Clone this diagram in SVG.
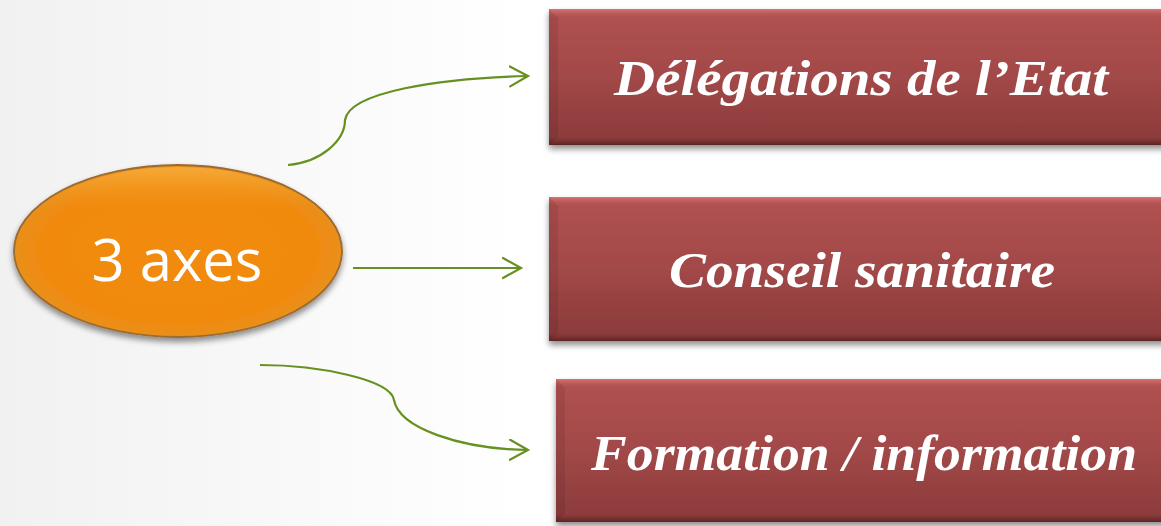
<svg xmlns="http://www.w3.org/2000/svg" width="1161" height="526" viewBox="0 0 1161 526">
  <defs>
    <linearGradient id="bg" x1="0" y1="0" x2="1" y2="0">
      <stop offset="0" stop-color="#f1f1f1"/>
      <stop offset="0.45" stop-color="#ffffff"/>
      <stop offset="1" stop-color="#ffffff"/>
    </linearGradient>
    <linearGradient id="boxFill" x1="0" y1="0" x2="0" y2="1">
      <stop offset="0" stop-color="#b25252"/>
      <stop offset="0.5" stop-color="#a24848"/>
      <stop offset="1" stop-color="#8a3a3a"/>
    </linearGradient>
    <linearGradient id="topBevel" x1="0" y1="0" x2="0" y2="1">
      <stop offset="0" stop-color="#dc7474"/>
      <stop offset="1" stop-color="#b25252" stop-opacity="0"/>
    </linearGradient>
    <linearGradient id="botBevel" x1="0" y1="0" x2="0" y2="1">
      <stop offset="0" stop-color="#7a3030" stop-opacity="0"/>
      <stop offset="1" stop-color="#5a2222"/>
    </linearGradient>
    <radialGradient id="ovalFill" cx="0.5" cy="0.5" r="0.5">
      <stop offset="0" stop-color="#f28b0e"/>
      <stop offset="0.85" stop-color="#f08a10"/>
      <stop offset="1" stop-color="#e8901c"/>
    </radialGradient>
    <linearGradient id="ovalShine" x1="0" y1="0" x2="0" y2="1">
      <stop offset="0" stop-color="#f7ac3a" stop-opacity="0.9"/>
      <stop offset="0.25" stop-color="#f59a22" stop-opacity="0"/>
    </linearGradient>
    <filter id="shadow" x="-5%" y="-10%" width="115%" height="130%">
      <feGaussianBlur in="SourceAlpha" stdDeviation="3"/>
      <feOffset dx="0" dy="4" result="b"/>
      <feComponentTransfer><feFuncA type="linear" slope="0.45"/></feComponentTransfer>
      <feMerge><feMergeNode/><feMergeNode in="SourceGraphic"/></feMerge>
    </filter>
    <marker id="arrow" markerUnits="userSpaceOnUse" markerWidth="24" markerHeight="26" refX="19" refY="11" orient="auto">
      <path d="M1,1 L19,11 L1,21" fill="none" stroke="#66901f" stroke-width="2.2" stroke-linecap="round" stroke-linejoin="miter"/>
    </marker>
  </defs>
  <style>
    .conn { fill: none; stroke: #66901f; stroke-width: 2.2; marker-end: url(#arrow); }
    .lbl { font-family: "Liberation Serif", "DejaVu Serif", serif; font-style: italic; font-weight: bold; fill: #ffffff; text-anchor: middle; }
    .oval-txt { font-family: "Open Sans", "Liberation Sans", sans-serif; fill: #ffffff; text-anchor: middle; }
  </style>

  <rect x="0" y="0" width="1161" height="526" fill="url(#bg)"/>

  <g id="connectors">
    <path class="conn" d="M288,165 C322,162 345,140 345,120 C349,92 440,78 528,76"/>
    <path class="conn" d="M353,268 L521,268"/>
    <path class="conn" d="M260,365 C320,365 391,380 394,400 C399,428 460,449 528,450"/>
  </g>

  <g id="node-axes">
    <ellipse cx="178" cy="251" rx="164" ry="86" fill="url(#ovalFill)" stroke="#9c6a30" stroke-width="1.8" filter="url(#shadow)"/>
    <ellipse cx="178" cy="251" rx="162" ry="84" fill="url(#ovalShine)"/>
    <text class="oval-txt" x="177" y="281" font-size="58">3 axes</text>
  </g>

  <g id="node-delegations">
    <g filter="url(#shadow)">
      <rect x="549" y="9" width="620" height="136" fill="url(#boxFill)"/>
    </g>
    <rect x="549" y="9" width="620" height="9" fill="url(#topBevel)"/>
    <rect x="549" y="137" width="620" height="8" fill="url(#botBevel)"/>
    <polygon points="549,9 558,18 558,137 549,145" fill="#000" fill-opacity="0.08"/>
    <text class="lbl" x="861" y="95" font-size="50" textLength="494" lengthAdjust="spacingAndGlyphs">Délégations de l’Etat</text>
  </g>

  <g id="node-conseil">
    <g filter="url(#shadow)">
      <rect x="549" y="197" width="620" height="144" fill="url(#boxFill)"/>
    </g>
    <rect x="549" y="197" width="620" height="9" fill="url(#topBevel)"/>
    <rect x="549" y="333" width="620" height="8" fill="url(#botBevel)"/>
    <polygon points="549,197 558,206 558,333 549,341" fill="#000" fill-opacity="0.08"/>
    <text class="lbl" x="862" y="287" font-size="50" textLength="386" lengthAdjust="spacingAndGlyphs">Conseil sanitaire</text>
  </g>

  <g id="node-formation">
    <g filter="url(#shadow)">
      <rect x="556" y="379" width="614" height="143" fill="url(#boxFill)"/>
    </g>
    <rect x="556" y="379" width="614" height="9" fill="url(#topBevel)"/>
    <rect x="556" y="514" width="614" height="8" fill="url(#botBevel)"/>
    <polygon points="556,379 565,388 565,514 556,522" fill="#000" fill-opacity="0.08"/>
    <text class="lbl" x="864" y="470" font-size="50" textLength="546" lengthAdjust="spacingAndGlyphs">Formation / information</text>
  </g>
</svg>
